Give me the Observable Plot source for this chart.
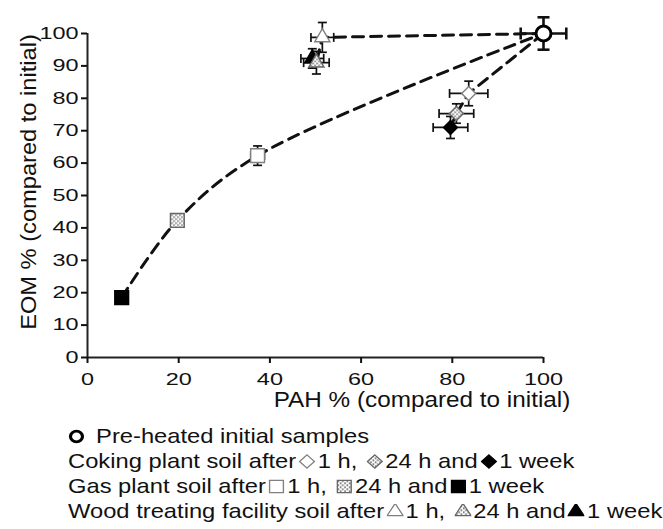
<!DOCTYPE html>
<html><head><meta charset="utf-8">
<script src="https://cdn.jsdelivr.net/npm/d3@7"></script>
<script src="https://cdn.jsdelivr.net/npm/@observablehq/plot@0.6"></script>
<style>
body{margin:0;background:#fff;font-family:"Liberation Sans",Arial,sans-serif;}
#legend{padding-top:13px;font-size:21px;line-height:25px;color:#111;}
.row{white-space:nowrap;transform:scaleX(1.13);transform-origin:0 50%;margin-left:68px;height:25px;}
.row svg{vertical-align:-1px;margin:0 2px;}
</style></head><body>
<svg width="0" height="0" style="position:absolute">
<defs><pattern id="dots" patternUnits="userSpaceOnUse" width="4" height="4">
<rect width="4" height="4" fill="#fff"/><rect width="1.4" height="1.4" fill="#444"/><rect x="2" y="2" width="1.4" height="1.4" fill="#444"/></pattern></defs></svg>
<div id="chart"></div><div id="legend"></div>
<script>
// ---- data ----
const times = ["1 h", "24 h", "1 week"];
const soils = ["Coking plant soil", "Gas plant soil", "Wood treating facility soil"];
const initialPAH = [100];
const initialEOM = [100];
const initialPAHErr = [5];
const initialEOMErr = [5];
const cokingPAH = [83.6, 80.9, 79.6];
const cokingEOM = [81.5, 75.3, 71.0];
const cokingPAHErr = [4.2, 3.8, 3.8];
const cokingEOMErr = [3.8, 3.0, 3.4];
const gasPAH = [37.3, 19.7, 7.5];
const gasEOM = [62.3, 42.3, 18.5];
const gasPAHErr = [1.5, 0, 0];
const gasEOMErr = [3.0, 0, 0];
const woodPAH = [51.5, 50.2, 49.3];
const woodEOM = [98.8, 91.0, 92.3];
const woodPAHErr = [2.5, 2.8, 2.5];
const woodEOMErr = [4.6, 3.5, 3.0];
const xTicks = [0, 20, 40, 60, 80, 100];
const yTicks = [0, 10, 20, 30, 40, 50, 60, 70, 80, 90, 100];
const xTitle = "PAH % (compared to initial)";
const yTitle = "EOM % (compared to initial)";
const initialLabel = "Pre-heated initial samples";

// ---- build tables ----
const initial = initialPAH.map((p, i) => ({soil: "initial", time: "0", pah: p, eom: initialEOM[i], pahErr: initialPAHErr[i], eomErr: initialEOMErr[i]}));
function rows(soil, P, E, PE, EE) {
  return times.map((t, i) => ({soil, time: t, pah: P[i], eom: E[i], pahErr: PE[i], eomErr: EE[i]}));
}
const coking = rows(soils[0], cokingPAH, cokingEOM, cokingPAHErr, cokingEOMErr);
const gas = rows(soils[1], gasPAH, gasEOM, gasPAHErr, gasEOMErr);
const wood = rows(soils[2], woodPAH, woodEOM, woodPAHErr, woodEOMErr);
const samples = [...coking, ...gas, ...wood];

const fillOf = {"1 h": "white", "24 h": "url(#dots)", "1 week": "black"};
const strokeOf = {"1 h": "#808080", "24 h": "#666666", "1 week": "black"};

const hCap = {draw(ctx, size) { const r = Math.sqrt(size / Math.PI); ctx.moveTo(-r, 0); ctx.lineTo(r, 0); }};
const vCap = {draw(ctx, size) { const r = Math.sqrt(size / Math.PI); ctx.moveTo(0, -r); ctx.lineTo(0, r); }};

function errorMarks(data, sw, cap) {
  const xe = data.filter(d => d.pahErr > 0), ye = data.filter(d => d.eomErr > 0);
  return [
    Plot.link(xe, {x1: d => d.pah - d.pahErr, x2: d => d.pah + d.pahErr, y1: "eom", y2: "eom", stroke: "#111", strokeWidth: sw}),
    Plot.link(ye, {x1: "pah", x2: "pah", y1: d => d.eom - d.eomErr, y2: d => d.eom + d.eomErr, stroke: "#111", strokeWidth: sw}),
    Plot.dot(xe, {x: d => d.pah - d.pahErr, y: "eom", symbol: vCap, r: cap, fill: "none", stroke: "#111", strokeWidth: sw}),
    Plot.dot(xe, {x: d => d.pah + d.pahErr, y: "eom", symbol: vCap, r: cap, fill: "none", stroke: "#111", strokeWidth: sw}),
    Plot.dot(ye, {x: "pah", y: d => d.eom - d.eomErr, symbol: hCap, r: cap, fill: "none", stroke: "#111", strokeWidth: sw}),
    Plot.dot(ye, {x: "pah", y: d => d.eom + d.eomErr, symbol: hCap, r: cap, fill: "none", stroke: "#111", strokeWidth: sw})
  ];
}

const dash = {stroke: "#111", strokeWidth: 3, strokeDasharray: "11,7"};
const H = 410;
const svg = Plot.plot({
  width: 663, height: H,
  marginLeft: 87, marginRight: 120, marginTop: 33, marginBottom: H - 357,
  x: {domain: [0, 100]},
  y: {domain: [0, 100]},
  color: {type: "identity"},
  style: {fontFamily: "'Liberation Sans', Arial, sans-serif", fontSize: "16.5px", color: "#111", background: "white", overflow: "visible"},
  marks: [
    Plot.line([...initial, ...wood], {x: "pah", y: "eom", ...dash}),
    Plot.line([...initial, ...coking], {x: "pah", y: "eom", ...dash}),
    Plot.line([...gas].reverse().concat(initial), {x: "pah", y: "eom", curve: "catmull-rom", ...dash}),
    ...errorMarks(samples, 1.7, 4.5),
    ...errorMarks(initial, 2.6, 6),
    Plot.dot(coking, {x: "pah", y: "eom", symbol: "diamond2", r: 6.3, fill: d => fillOf[d.time], stroke: d => strokeOf[d.time], strokeWidth: 1.4}),
    Plot.dot(gas, {x: "pah", y: "eom", symbol: "square", r: 7.8, fill: d => fillOf[d.time], stroke: d => strokeOf[d.time], strokeWidth: 1.4}),
    Plot.dot([wood[0], wood[2], wood[1]], {x: "pah", y: "eom", symbol: "triangle", r: 5.6, fill: d => fillOf[d.time], stroke: d => strokeOf[d.time], strokeWidth: 1.4}),
    Plot.dot(initial, {x: "pah", y: "eom", r: 7.5, fill: "white", stroke: "black", strokeWidth: 3}),
    Plot.ruleX([0], {stroke: "#222", strokeWidth: 2}),
    Plot.ruleY([0], {stroke: "#222", strokeWidth: 2}),
    Plot.axisX({ticks: xTicks, tickSize: 6, tickPadding: 10, strokeWidth: 2, label: null}),
    Plot.axisY({ticks: yTicks, tickSize: 6, tickPadding: 3, strokeWidth: 2, label: null})
  ]
});
document.getElementById("chart").appendChild(svg);

// widen tick labels like the reference
svg.querySelectorAll("text").forEach(el => {
  const b = el.getBBox();
  const a = getComputedStyle(el).textAnchor;
  const ax = a === "end" ? b.x + b.width : a === "middle" ? b.x + b.width / 2 : b.x;
  const t = el.getAttribute("transform") || "";
  el.setAttribute("transform", `${t} translate(${ax},0) scale(1.42,1) translate(${-ax},0)`);
});

const s = d3.select(svg);
s.append("text").attr("transform", "translate(422,407) scale(1.13,1)").attr("text-anchor", "middle")
  .attr("font-size", 21.5).attr("fill", "#111").text(xTitle);
s.append("text").attr("transform", "translate(36,182) rotate(-90) scale(1.1,1)").attr("text-anchor", "middle")
  .attr("font-size", 21.5).attr("fill", "#111").text(yTitle);

// ---- legend ----
const legendShapes = [d3.symbolDiamond2, d3.symbolSquare, d3.symbolTriangle];
const legendSizes = [110, 150, 85];
function icon(type, size, fill, stroke, sw) {
  const p = d3.symbol(type, size)();
  return `<svg width="15" height="15" viewBox="-7.5 -7.5 15 15"><path d="${p}" fill="${fill}" stroke="${stroke}" stroke-width="${sw}"/></svg>`;
}
const leg = document.getElementById("legend");
let html = `<div class="row"><svg width="15" height="15" viewBox="-7.5 -7.5 15 15" style="margin:0 4px 0 0"><circle r="5.3" fill="white" stroke="black" stroke-width="2.8"/></svg> ${initialLabel}</div>`;
soils.forEach((soil, i) => {
  const ic = times.map(t => icon(legendShapes[i], legendSizes[i], fillOf[t], strokeOf[t], 1.2));
  html += `<div class="row">${soil} after${ic[0]}${times[0]}, ${ic[1]}${times[1]} and${ic[2]}${times[2]}</div>`;
});
leg.innerHTML = html;
</script>
</body></html>
